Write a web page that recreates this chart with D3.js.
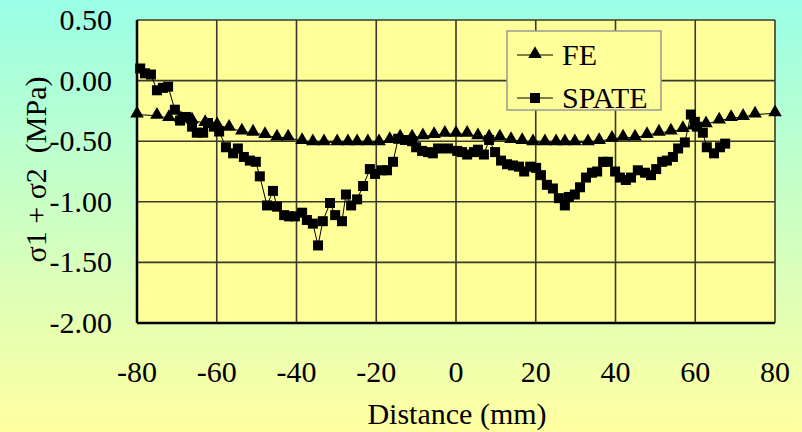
<!DOCTYPE html>
<html>
<head>
<meta charset="utf-8">
<style>
body { margin: 0; }
svg { display: block; }
</style>
</head>
<body>
<svg width="802" height="432" font-family="Liberation Serif"></svg>
<script src="https://d3js.org/d3.v7.min.js"></script>
<script>

// FE model, distance (mm) and sigma1+sigma2 (MPa)
var feX = [-80, -75, -72, -69, -66.2, -62.9, -59.9, -56.9, -53.7, -50.9, -47.9, -44.9, -42.1, -38.6,
  -35.9, -33.1, -29.8, -27.1, -24.8, -22.1, -19.3, -16.6, -14, -11, -8.3, -5.5, -2.8, 0, 2.8, 5.5,
  8.3, 11, 13.8, 16.6, 19.3, 22.3, 25.1, 27.3, 29.8, 33.1, 35.9, 39.1, 41.9, 44.9, 47.9, 50.9,
  53.9, 56.9, 59.7, 62.7, 66, 69, 72, 75, 80];
var feY = [-0.28, -0.29, -0.31, -0.32, -0.33, -0.35, -0.37, -0.39, -0.42, -0.43, -0.45, -0.47, -0.47, -0.50,
  -0.51, -0.51, -0.51, -0.51, -0.51, -0.51, -0.51, -0.49, -0.47, -0.47, -0.46, -0.45, -0.44, -0.44, -0.44, -0.46,
  -0.47, -0.47, -0.49, -0.50, -0.51, -0.51, -0.51, -0.51, -0.51, -0.51, -0.50, -0.48, -0.47, -0.47, -0.45, -0.43,
  -0.42, -0.40, -0.38, -0.36, -0.33, -0.31, -0.30, -0.28, -0.27];

// SPATE measurement
var spX = [-79.2, -78, -76.5, -75, -73.5, -72.2, -70.5, -69.2, -67.7, -66.2, -65, -63.4, -62.2, -60.7, -59.4,
  -57.7, -55.9, -54.7, -53.2, -51.7, -50.2, -49.2, -47.4, -45.9, -44.9, -43.1, -41.9, -40.4, -38.6, -37.4,
  -35.9, -34.6, -33.4, -31.6, -30.3, -28.6, -27.6, -26.3, -24.8, -23.3, -21.6, -20.3, -18.6, -17.3, -15.8,
  -14.5, -12.8, -11, -10, -8.5, -7, -5.8, -4.5, -2, 0.3, 1.5, 2.8, 4.5, 5.5, 7, 8.3, 9.8, 11.3, 12.8, 14.3,
  15.8, 17.1, 18.6, 20.1, 21.3, 22.8, 24.3, 25.8, 27.3, 28.3, 29.8, 31.1, 32.6, 34.1, 35.4, 36.9, 38.1,
  39.9, 41.1, 42.6, 43.9, 45.6, 47.4, 48.9, 50.2, 51.7, 52.9, 54.4, 55.7, 57.4, 58.9, 59.9, 60.4, 61.9,
  62.9, 64.7, 66.2, 67.5];
var spY = [0.10, 0.06, 0.05, -0.08, -0.06, -0.05, -0.24, -0.33, -0.30, -0.38, -0.43, -0.43, -0.35, -0.38, -0.42,
  -0.55, -0.60, -0.56, -0.63, -0.66, -0.67, -0.79, -1.03, -0.91, -1.04, -1.11, -1.12, -1.12, -1.09, -1.15,
  -1.18, -1.36, -1.16, -1.01, -1.11, -1.16, -0.94, -1.03, -0.98, -0.87, -0.73, -0.77, -0.74, -0.74, -0.67,
  -0.48, -0.49, -0.50, -0.55, -0.58, -0.59, -0.60, -0.56, -0.56, -0.58, -0.59, -0.61, -0.59, -0.57, -0.61, -0.49, -0.59, -0.66, -0.69, -0.70,
  -0.71, -0.75, -0.71, -0.72, -0.78, -0.86, -0.89, -0.97, -1.03, -0.96, -0.94, -0.88, -0.80, -0.76, -0.75, -0.67, -0.67,
  -0.75, -0.80, -0.82, -0.80, -0.74, -0.76, -0.78, -0.73, -0.67, -0.66, -0.63, -0.56, -0.51, -0.28, -0.34, -0.38, -0.43,
  -0.55, -0.60, -0.55, -0.52];

var xTicks = [-80, -60, -40, -20, 0, 20, 40, 60, 80];
var yTicks = [0.5, 0, -0.5, -1, -1.5, -2];
var seriesNames = ["FE", "SPATE"];

var svg = d3.select("svg"),
    margin = {top: 20, right: 27, bottom: 109, left: 137},
    width = +svg.attr("width") - margin.left - margin.right,
    height = +svg.attr("height") - margin.top - margin.bottom;

var defs = svg.append("defs");
var grad = defs.append("linearGradient")
    .attr("id", "bg").attr("x1", 0).attr("y1", 0).attr("x2", 0).attr("y2", 1);
grad.append("stop").attr("offset", "0%").attr("stop-color", "#99ffe6");
grad.append("stop").attr("offset", "100%").attr("stop-color", "#ffffa0");

svg.append("rect").attr("width", 802).attr("height", 432).attr("fill", "url(#bg)");

var x = d3.scaleLinear().domain([-80, 80]).range([0, width]);
var y = d3.scaleLinear().domain([-2, 0.5]).range([height, 0]);

// plain hyphen minus, like the original
var fx = function(d) { return d3.format("d")(d).replace("\u2212", "-"); };
var fy = function(d) { return d3.format(".2f")(d).replace("\u2212", "-"); };

var g = svg.append("g")
    .attr("transform", "translate(" + margin.left + "," + margin.top + ")");

g.append("rect").attr("width", width).attr("height", height).attr("fill", "#ffff99");

var grid = g.append("g").attr("stroke", "#3a3a2a").attr("stroke-width", 1.6);
grid.selectAll(".gx").data(xTicks).enter().append("line")
    .attr("x1", function(d) { return x(d); }).attr("x2", function(d) { return x(d); })
    .attr("y1", 0).attr("y2", height);
grid.selectAll(".gy").data(yTicks).enter().append("line")
    .attr("y1", function(d) { return y(d); }).attr("y2", function(d) { return y(d); })
    .attr("x1", 0).attr("x2", width);

// heavy left / bottom axis lines
g.append("line").attr("x1", 0).attr("x2", 0).attr("y1", 0).attr("y2", height)
    .attr("stroke", "#000").attr("stroke-width", 2.5);
g.append("line").attr("x1", 0).attr("x2", width).attr("y1", height).attr("y2", height)
    .attr("stroke", "#000").attr("stroke-width", 2.5);

var fe = feX.map(function(d, i) { return [d, feY[i]]; });
var sp = spX.map(function(d, i) { return [d, spY[i]]; });

var line = d3.line().x(function(d) { return x(d[0]); }).y(function(d) { return y(d[1]); });

g.append("path").datum(fe).attr("d", line)
    .attr("fill", "none").attr("stroke", "#000").attr("stroke-width", 1);
g.append("path").datum(sp).attr("d", line)
    .attr("fill", "none").attr("stroke", "#000").attr("stroke-width", 1);

var tri = d3.symbol().type(d3.symbolTriangle).size(80);
g.selectAll(".tri").data(fe).enter().append("path")
    .attr("d", tri)
    .attr("transform", function(d) { return "translate(" + x(d[0]) + "," + (y(d[1]) - 1) + ")"; })
    .attr("fill", "#000");

g.selectAll(".sq").data(sp).enter().append("rect")
    .attr("x", function(d) { return x(d[0]) - 5; })
    .attr("y", function(d) { return y(d[1]) - 5; })
    .attr("width", 10).attr("height", 10)
    .attr("fill", "#000");

// legend
var lg = svg.append("g").attr("transform", "translate(507,31)");
lg.append("rect").attr("width", 154).attr("height", 79)
    .attr("fill", "#ffff99").attr("stroke", "#999").attr("stroke-width", 1.5);
seriesNames.forEach(function(name, i) {
  var cy = 24 + i * 43;
  lg.append("line").attr("x1", 10).attr("x2", 46).attr("y1", cy).attr("y2", cy)
      .attr("stroke", "#000").attr("stroke-width", 1);
  if (i === 0) {
    lg.append("path").attr("d", tri).attr("transform", "translate(28," + (cy - 1) + ")").attr("fill", "#000");
  } else {
    lg.append("rect").attr("x", 23).attr("y", cy - 5).attr("width", 10).attr("height", 10).attr("fill", "#000");
  }
  lg.append("text").attr("x", 55).attr("y", cy + 10)
      .attr("font-family", "Liberation Serif").attr("font-size", 30).text(name);
});

// axis texts: start-anchored, shifted by measured width
function place(sel, anchorFrac) {
  sel.each(function() {
    var w = this.getComputedTextLength();
    d3.select(this).attr("x", +d3.select(this).attr("x") - w * anchorFrac);
  });
}

var labels = svg.append("g")
    .attr("transform", "translate(" + margin.left + "," + margin.top + ")");
var xl = labels.selectAll(".xl").data(xTicks).enter().append("text")
    .attr("x", function(d) { return x(d); }).attr("y", height + 59)
    .attr("font-family", "Liberation Serif").attr("font-size", 30)
    .text(fx);
place(xl, 0.5);
var yl = labels.selectAll(".yl").data(yTicks).enter().append("text")
    .attr("x", -25).attr("y", function(d) { return y(d) + 10; })
    .attr("font-family", "Liberation Serif").attr("font-size", 30)
    .text(fy);
place(yl, 1);

var xt = svg.append("text")
    .attr("x", margin.left + width / 2 + 1).attr("y", 424)
    .attr("font-family", "Liberation Serif").attr("font-size", 30)
    .text("Distance (mm)");
place(xt, 0.5);

var ytl = svg.append("g")
    .attr("transform", "translate(46," + (margin.top + height / 2 - 2) + ") rotate(-90)");
var yt = ytl.append("text")
    .attr("x", 0).attr("y", 0)
    .attr("font-family", "Liberation Serif").attr("font-size", 30)
    .text("σ1 + σ2\u00a0 (MPa)");
place(yt, 0.5);

</script>
</body>
</html>
